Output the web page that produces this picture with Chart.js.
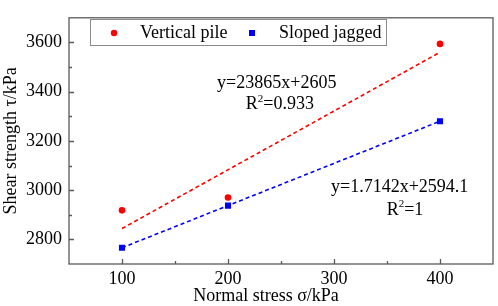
<!DOCTYPE html>
<html><head><meta charset="utf-8">
<script src="https://cdn.jsdelivr.net/npm/chart.js@4/dist/chart.umd.min.js"></script>
<style>html,body{margin:0;padding:0;background:#fff}</style>
</head><body>
<canvas id="c" width="498" height="306"></canvas>
<script>
// ---- data ----
const xValues = [100, 200, 400];
const verticalPile = [2918, 2970, 3594];
const slopedJagged = [2766, 2937, 3280];
const fitX = [100, 400];
const verticalFit = [2844, 3560];
const slopedFit = [2766, 3280];
const xTicks = [100, 200, 300, 400];
const yTicks = [2800, 3000, 3200, 3400, 3600];
const seriesNames = ['Vertical pile', 'Sloped jagged'];
const equations = ['y=23865x+2605', 'y=1.7142x+2594.1'];
const rSquared = ['0.933', '1'];
const xTitle = 'Normal stress σ/kPa';
const yTitle = 'Shear strength τ/kPa';

const FONT = "'Liberation Serif', 'Times New Roman', serif";
const RED = '#ff0000', BLUE = '#0000ff';

const pts = (xs, ys) => xs.map((x, i) => ({x: x, y: ys[i]}));

const decor = {
  id: 'decor',
  afterDraw(chart) {
    const ctx = chart.ctx, a = chart.chartArea;
    const xs = chart.scales.x, ys = chart.scales.y;
    ctx.save();
    // frame
    ctx.strokeStyle = '#5a5a5a';
    ctx.lineWidth = 1.3;
    ctx.strokeRect(a.left, a.top, a.right - a.left, a.bottom - a.top);
    // inward ticks
    ctx.beginPath();
    xTicks.forEach(v => { const p = Math.round(xs.getPixelForValue(v)) + 0.5; ctx.moveTo(p, a.bottom); ctx.lineTo(p, a.bottom - 5); });
    for (let i = 0; i < xTicks.length - 1; i++) { const v = (xTicks[i] + xTicks[i + 1]) / 2; const p = Math.round(xs.getPixelForValue(v)) + 0.5; ctx.moveTo(p, a.bottom); ctx.lineTo(p, a.bottom - 3); }
    yTicks.forEach(v => { const p = Math.round(ys.getPixelForValue(v)) + 0.5; ctx.moveTo(a.left, p); ctx.lineTo(a.left + 5, p); });
    for (let i = 0; i < yTicks.length - 1; i++) { const v = (yTicks[i] + yTicks[i + 1]) / 2; const p = Math.round(ys.getPixelForValue(v)) + 0.5; ctx.moveTo(a.left, p); ctx.lineTo(a.left + 3, p); }
    ctx.stroke();

    // x-axis title (slightly left of centre as in the reference)
    ctx.font = '18px ' + FONT;
    ctx.fillStyle = '#000';
    ctx.textAlign = 'center';
    ctx.textBaseline = 'middle';
    ctx.fillText(xTitle, 266, 296);

    // legend
    ctx.strokeStyle = '#8a8a8a';
    ctx.lineWidth = 1;
    ctx.strokeRect(90.5, 19.5, 296, 26);
    ctx.textAlign = 'left';
    ctx.fillStyle = RED;
    ctx.beginPath(); ctx.arc(114, 33, 3.2, 0, Math.PI * 2); ctx.fill();
    ctx.fillStyle = '#000';
    ctx.fillText(seriesNames[0], 140, 33);
    ctx.fillStyle = BLUE;
    ctx.fillRect(249, 30, 6, 6);
    ctx.fillStyle = '#000';
    ctx.fillText(seriesNames[1], 279, 33);

    // equation annotations, anchored in data space
    const notes = [
      {eq: equations[0], r: rSquared[0], ex: 246, ey: 3435, rx: 249, ry: 3347},
      {eq: equations[1], r: rSquared[1], ex: 362, ey: 3012, rx: 367, ry: 2920}
    ];
    notes.forEach(n => {
      ctx.font = '18px ' + FONT;
      ctx.textAlign = 'center';
      ctx.textBaseline = 'middle';
      ctx.fillText(n.eq, xs.getPixelForValue(n.ex), ys.getPixelForValue(n.ey));
      const cx = xs.getPixelForValue(n.rx), cy = ys.getPixelForValue(n.ry);
      const wR = ctx.measureText('R').width;
      const rest = '=' + n.r;
      const wRest = ctx.measureText(rest).width;
      ctx.font = '11px ' + FONT;
      const w2 = ctx.measureText('2').width;
      const total = wR + w2 + wRest;
      let x0 = cx - total / 2;
      ctx.textAlign = 'left';
      ctx.font = '18px ' + FONT;
      ctx.fillText('R', x0, cy);
      ctx.font = '11px ' + FONT;
      ctx.fillText('2', x0 + wR, cy - 6);
      ctx.font = '18px ' + FONT;
      ctx.fillText(rest, x0 + wR + w2, cy);
    });
    ctx.restore();
  }
};

new Chart(document.getElementById('c'), {
  type: 'scatter',
  data: {
    datasets: [
      {label: seriesNames[0] + ' fit', type: 'line', data: pts(fitX, verticalFit), borderColor: RED, borderWidth: 1.6, borderDash: [4, 3], pointRadius: 0, fill: false},
      {label: seriesNames[1] + ' fit', type: 'line', data: pts(fitX, slopedFit), borderColor: BLUE, borderWidth: 1.6, borderDash: [4, 3], pointRadius: 0, fill: false},
      {label: seriesNames[0], data: pts(xValues, verticalPile), backgroundColor: RED, borderColor: RED, pointStyle: 'circle', pointRadius: 3.3, borderWidth: 0},
      {label: seriesNames[1], data: pts(xValues, slopedJagged), backgroundColor: BLUE, borderColor: BLUE, pointStyle: 'rect', pointRadius: 4.3, borderWidth: 0}
    ]
  },
  options: {
    responsive: false,
    devicePixelRatio: 1,
    animation: false,
    layout: {padding: {top: 4, right: 5, left: 0, bottom: 0}},
    plugins: {legend: {display: false}, tooltip: {enabled: false}},
    scales: {
      x: {
        type: 'linear', min: 50, max: 450,
        afterBuildTicks: s => { s.ticks = xTicks.map(v => ({value: v})); },
        afterFit: s => { s.height = 42; },
        grid: {display: false, drawTicks: false},
        border: {display: false},
        ticks: {color: '#000', font: {family: FONT, size: 18}, padding: 4, maxRotation: 0, callback: v => String(v)},
        title: {display: false}
      },
      y: {
        type: 'linear', min: 2700, max: 3700,
        afterBuildTicks: s => { s.ticks = yTicks.map(v => ({value: v})); },
        afterFit: s => { s.width = 69; },
        grid: {display: false, drawTicks: false},
        border: {display: false},
        ticks: {color: '#000', font: {family: FONT, size: 18}, padding: 7, callback: v => String(v)},
        title: {display: true, text: yTitle, color: '#000', font: {family: FONT, size: 18}, padding: {top: 0, bottom: 0}}
      }
    }
  },
  plugins: [decor]
});
</script>
</body></html>
